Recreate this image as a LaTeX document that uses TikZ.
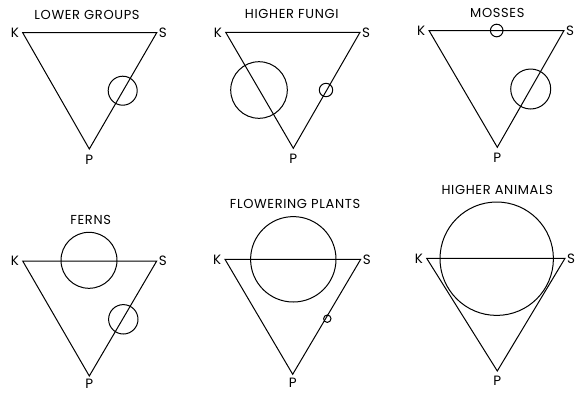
\documentclass[tikz,border=0pt]{standalone}
\usepackage{fontspec}
\setmainfont{Poppins}
\usetikzlibrary{positioning}

\begin{document}
\begin{tikzpicture}[
    x=1pt, y=-1pt,
    side/.style={line width=1pt, line join=miter},
    ring/.style={circle, draw, line width=1pt, inner sep=0pt},
    vlabel/.style={font=\fontsize{13.5}{13.5}\selectfont, inner sep=0pt},
    title/.style={font=\fontsize{13}{13}\selectfont\addfontfeature{LetterSpace=5}, inner sep=0pt}
]
\useasboundingbox (0,0) rectangle (587,392);

%% Lower groups
\coordinate (k1) at (22.7,32.7);
\coordinate (s1) at (156.7,32.7);
\coordinate (p1) at (89.3,149);
\draw[side] (k1) -- (s1) -- (p1) -- cycle;
\node[vlabel, left=3.5pt of k1] (kl1) {K};
\node[vlabel, right=2pt of s1]  (sl1) {S};
\node[vlabel, below=6pt of p1]  (pl1) {P};
\node[title] (t1) at (87,15) {LOWER GROUPS};
\node[ring, minimum size=29pt] (c1a) at (122.7,90.7) {};

%% Higher fungi
\coordinate (k2) at (225.7,32.3);
\coordinate (s2) at (360,32.3);
\coordinate (p2) at (293.3,148.3);
\draw[side] (k2) -- (s2) -- (p2) -- cycle;
\node[vlabel, left=3.5pt of k2] (kl2) {K};
\node[vlabel, right=2pt of s2]  (sl2) {S};
\node[vlabel, below=6pt of p2]  (pl2) {P};
\node[title] (t2) at (291.7,14) {HIGHER FUNGI};
\node[ring, minimum size=56.6pt] (c2a) at (259,90) {};
\node[ring, minimum size=13.4pt] (c2b) at (326,90) {};

%% Mosses
\coordinate (k3) at (429,30.5);
\coordinate (s3) at (564,30.5);
\coordinate (p3) at (497.3,147.3);
\draw[side] (k3) -- (s3) -- (p3) -- cycle;
\node[vlabel, left=3.5pt of k3] (kl3) {K};
\node[vlabel, right=2pt of s3]  (sl3) {S};
\node[vlabel, below=6pt of p3]  (pl3) {P};
\node[title] (t3) at (497.3,12.7) {MOSSES};
\node[ring, minimum size=12.6pt] (c3a) at (496.7,30.5) {};
\node[ring, minimum size=40pt] (c3b) at (530.7,89) {};

%% Ferns
\coordinate (k4) at (22.7,261);
\coordinate (s4) at (156.7,261);
\coordinate (p4) at (89.3,376);
\draw[side] (k4) -- (s4) -- (p4) -- cycle;
\node[vlabel, left=3.5pt of k4] (kl4) {K};
\node[vlabel, right=2pt of s4]  (sl4) {S};
\node[vlabel, below=3pt of p4]  (pl4) {P};
\node[title] (t4) at (90.7,220) {FERNS};
\node[ring, minimum size=56pt] (c4a) at (89,260.3) {};
\node[ring, minimum size=29.4pt] (c4b) at (123.3,319.3) {};

%% Flowering plants
\coordinate (k5) at (225,259.3);
\coordinate (s5) at (360.7,259.3);
\coordinate (p5) at (292.7,374.3);
\draw[side] (k5) -- (s5) -- (p5) -- cycle;
\node[vlabel, left=3.5pt of k5] (kl5) {K};
\node[vlabel, right=2pt of s5]  (sl5) {S};
\node[vlabel, below=4pt of p5]  (pl5) {P};
\node[title] (t5) at (295,204.3) {FLOWERING PLANTS};
\node[ring, minimum size=85.4pt] (c5a) at (293.3,259.3) {};
\node[ring, minimum size=7.4pt] (c5b) at (327.3,318.7) {};

%% Higher animals
\coordinate (k6) at (426.7,258.3);
\coordinate (s6) at (565,258.3);
\coordinate (p6) at (497.3,371);
\draw[side] (k6) -- (s6) -- (p6) -- cycle;
\node[vlabel, left=3.5pt of k6] (kl6) {K};
\node[vlabel, right=2pt of s6]  (sl6) {S};
\node[vlabel, below=5pt of p6]  (pl6) {P};
\node[title] (t6) at (497.3,190) {HIGHER ANIMALS};
\node[ring, minimum size=113.4pt] (c6a) at (496.7,258.7) {};

\end{tikzpicture}
\end{document}
